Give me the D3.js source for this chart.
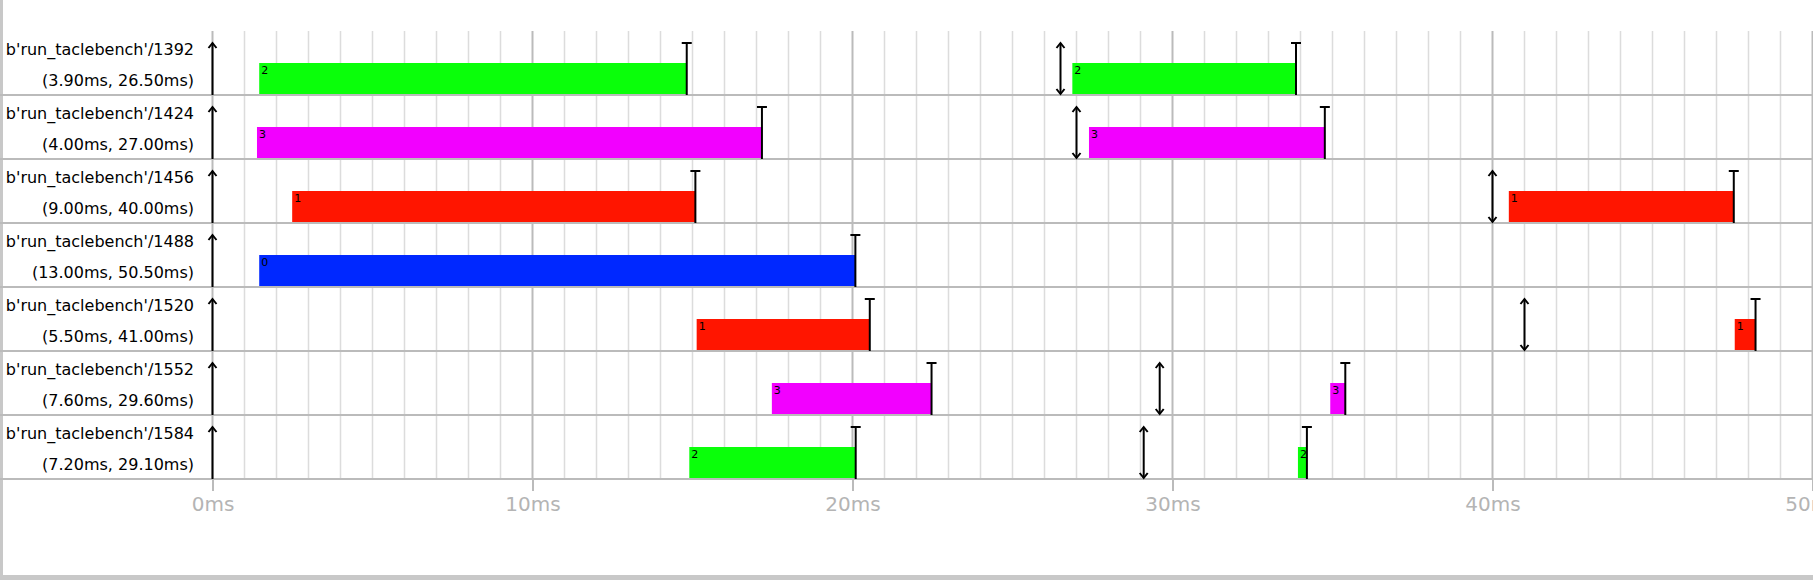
<!DOCTYPE html>
<html>
<head>
<meta charset="utf-8">
<script src="https://cdn.jsdelivr.net/npm/d3@7"></script>
<style>
  html, body { margin: 0; padding: 0; background: #fff; }
  svg { display: block; font-family: "DejaVu Sans", sans-serif; }
</style>
</head>
<body>
<svg id="chart" width="1813" height="580"></svg>
<script>
// ---- data ----
const tasks = ["b'run_taclebench'/1392", "b'run_taclebench'/1424", "b'run_taclebench'/1456",
               "b'run_taclebench'/1488", "b'run_taclebench'/1520", "b'run_taclebench'/1552",
               "b'run_taclebench'/1584"];
const wcet = [3.90, 4.00, 9.00, 13.00, 5.50, 7.60, 7.20];
const period = [26.50, 27.00, 40.00, 50.50, 41.00, 29.60, 29.10];

const jobTask  = [0, 0, 1, 1, 2, 2, 3, 4, 4, 5, 5, 6, 6];
const jobStart = [1.46, 26.87, 1.39, 27.39, 2.49, 40.51, 1.46, 15.13, 47.57, 17.48, 34.93, 14.90, 33.92];
const jobEnd   = [14.82, 33.86, 17.17, 34.76, 15.09, 47.54, 20.09, 20.54, 48.22, 22.47, 35.40, 20.10, 34.20];
const jobCore  = [2, 2, 3, 3, 1, 1, 0, 1, 1, 3, 3, 2, 2];

const coreColors = ["#0028ff", "#ff1500", "#0aff0a", "#f200ff"];
const xTicks = [0, 10, 20, 30, 40, 50];
const xDomain = [0, 50];

// ---- layout ----
const W = 1813, H = 580;
const plotLeft = 212.5, plotRight = 1812.5, plotTop = 31, rowH = 64;
const svg = d3.select("#chart");

const x = d3.scaleLinear().domain(xDomain).range([plotLeft, plotRight]);
const y = d3.scaleBand().domain(d3.range(tasks.length)).range([plotTop, plotTop + rowH * tasks.length]).padding(0);
const plotBottom = plotTop + rowH * tasks.length;

// page frame
svg.append("rect").attr("x", 0).attr("y", 0).attr("width", W).attr("height", H).attr("fill", "#fff");
svg.append("rect").attr("x", 0).attr("y", 0).attr("width", 3).attr("height", H).attr("fill", "#c8c8c8");
svg.append("rect").attr("x", 0).attr("y", 575).attr("width", W).attr("height", 5).attr("fill", "#c8c8c8");

// minor grid
const minor = d3.range(0, 51, 1).filter(v => v % 10 !== 0);
svg.append("g").selectAll("line").data(minor).join("line")
  .attr("x1", d => x(d)).attr("x2", d => x(d))
  .attr("y1", plotTop).attr("y2", plotBottom)
  .attr("stroke", "#dcdcdc").attr("stroke-width", 1.5);

// major grid
svg.append("g").selectAll("line").data(xTicks).join("line")
  .attr("x1", d => x(d)).attr("x2", d => x(d))
  .attr("y1", plotTop).attr("y2", plotBottom)
  .attr("stroke", "#bbbbbb").attr("stroke-width", 2);

// axis
const axis = d3.axisBottom(x).tickValues(xTicks).tickFormat(d => d + "ms").tickSize(12).tickPadding(6);
const gAxis = svg.append("g").attr("transform", `translate(0,${plotBottom})`).call(axis);
gAxis.select(".domain").remove();
gAxis.selectAll(".tick line").attr("stroke", "#bbbbbb").attr("stroke-width", 2);
gAxis.selectAll(".tick text").attr("fill", "#b4b4b4").attr("font-size", 20)
  .attr("font-family", "DejaVu Sans").attr("dy", "0.71em");

// bars
const jobs = jobTask.map((t, i) => ({ t, s: jobStart[i], e: jobEnd[i], c: jobCore[i] }));
const gBars = svg.append("g");
gBars.selectAll("rect").data(jobs).join("rect")
  .attr("x", d => x(d.s)).attr("width", d => x(d.e) - x(d.s))
  .attr("y", d => y(d.t) + rowH / 2).attr("height", rowH / 2)
  .attr("fill", d => coreColors[d.c]);
gBars.selectAll("text").data(jobs).join("text")
  .attr("x", d => x(d.s) + 2).attr("y", d => y(d.t) + rowH / 2 + 11)
  .attr("font-size", 11).attr("fill", "#000").text(d => d.c);

// row separators
svg.append("g").selectAll("line").data(d3.range(tasks.length)).join("line")
  .attr("x1", 0).attr("x2", W)
  .attr("y1", d => y(d) + rowH).attr("y2", d => y(d) + rowH)
  .attr("stroke", "#bbbbbb").attr("stroke-width", 2);

// completion markers (T)
const gT = svg.append("g").attr("stroke", "#000").attr("stroke-width", 2).attr("fill", "none");
jobs.forEach(d => {
  const xe = x(d.e), yt = y(d.t) + 12, yb = y(d.t) + rowH;
  gT.append("line").attr("x1", xe).attr("x2", xe).attr("y1", yt).attr("y2", yb);
  gT.append("line").attr("x1", xe - 5).attr("x2", xe + 5).attr("y1", yt).attr("y2", yt);
});

// release arrows at 0 and deadline/re-release double arrows at period
const gA = svg.append("g").attr("stroke", "#000").attr("stroke-width", 2).attr("fill", "none");
tasks.forEach((name, i) => {
  const yt = y(i) + 12, yb = y(i) + rowH - 1;
  const x0 = x(0);
  gA.append("line").attr("x1", x0).attr("x2", x0).attr("y1", yt).attr("y2", yb + 1);
  gA.append("path").attr("d", `M${x0 - 4},${yt + 5}L${x0},${yt}L${x0 + 4},${yt + 5}`);
  if (period[i] <= xDomain[1]) {
    const xp = x(period[i]);
    gA.append("line").attr("x1", xp).attr("x2", xp).attr("y1", yt).attr("y2", yb);
    gA.append("path").attr("d", `M${xp - 4},${yt + 5}L${xp},${yt}L${xp + 4},${yt + 5}`);
    gA.append("path").attr("d", `M${xp - 4},${yb - 5}L${xp},${yb}L${xp + 4},${yb - 5}`);
  }
});

// row labels
const gL = svg.append("g").attr("text-anchor", "end").attr("font-size", 16).attr("fill", "#000");
tasks.forEach((name, i) => {
  gL.append("text").attr("x", 194).attr("y", y(i) + 24).text(name);
  gL.append("text").attr("x", 194).attr("y", y(i) + 55)
    .text(`(${wcet[i].toFixed(2)}ms, ${period[i].toFixed(2)}ms)`);
});
</script>
</body>
</html>
